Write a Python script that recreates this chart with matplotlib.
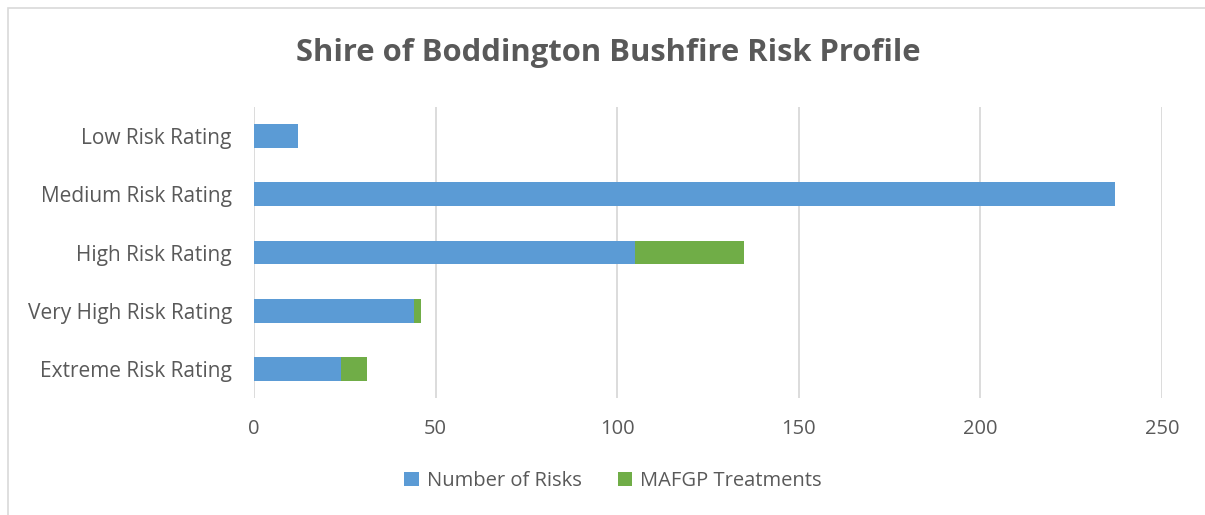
import matplotlib
matplotlib.use("Agg")
import matplotlib.pyplot as plt
from matplotlib.patches import Rectangle

categories = ["Low Risk Rating", "Medium Risk Rating", "High Risk Rating",
              "Very High Risk Rating", "Extreme Risk Rating"]
num_risks = [12, 237, 105, 44, 24]
mafgp     = [0, 0, 30, 2, 7]
xticks    = [0, 50, 100, 150, 200, 250]

BLUE  = "#5B9BD5"
GREEN = "#70AD47"
TEXT  = "#595959"
GRID  = "#D9D9D9"

plt.rcParams["font.family"] = ["Open Sans", "DejaVu Sans"]

W, H = 1205, 515
fig = plt.figure(figsize=(W / 100, H / 100), dpi=100)
ax = fig.add_axes([254 / W, 1 - 398 / H, (1162 - 254) / W, (398 - 107) / H])

ypos = list(range(len(categories)))
ax.barh(ypos, num_risks, height=0.41, color=BLUE, label="Number of Risks")
ax.barh(ypos, mafgp, left=num_risks, height=0.41, color=GREEN, label="MAFGP Treatments")

ax.set_ylim(len(categories) - 0.5, -0.5)
ax.set_xlim(0, 250)
ax.set_xticks(xticks)
ax.set_xticklabels([str(t) for t in xticks])
ax.set_yticks(ypos)
ax.set_yticklabels(categories)
ax.tick_params(axis="both", length=0, labelsize=14.5, colors=TEXT)
ax.tick_params(axis="y", labelsize=15, pad=16)
ax.tick_params(axis="x", pad=15)
ax.grid(axis="x", color=GRID, linewidth=1.3)
ax.set_axisbelow(True)
for s in ax.spines.values():
    s.set_visible(False)

fig.text(608 / W, 1 - 53 / H, "Shire of Boddington Bushfire Risk Profile",
         ha="center", va="center", fontsize=22.3, fontweight="bold", color=TEXT)

fig.legend(loc="center", bbox_to_anchor=(613 / W, 1 - 481 / H), ncol=2,
           frameon=False, fontsize=14.5, labelcolor=TEXT, handlelength=0.7,
           handleheight=0.7, columnspacing=1.8, handletextpad=0.4)

# outer chart border (top and left visible)
fig.patches.append(Rectangle((8 / W, -0.1), 1.2, 1 - 8 / H + 0.1,
                             transform=fig.transFigure, fill=False,
                             edgecolor=GRID, linewidth=1.2))

fig.savefig("out.png", dpi=100)
